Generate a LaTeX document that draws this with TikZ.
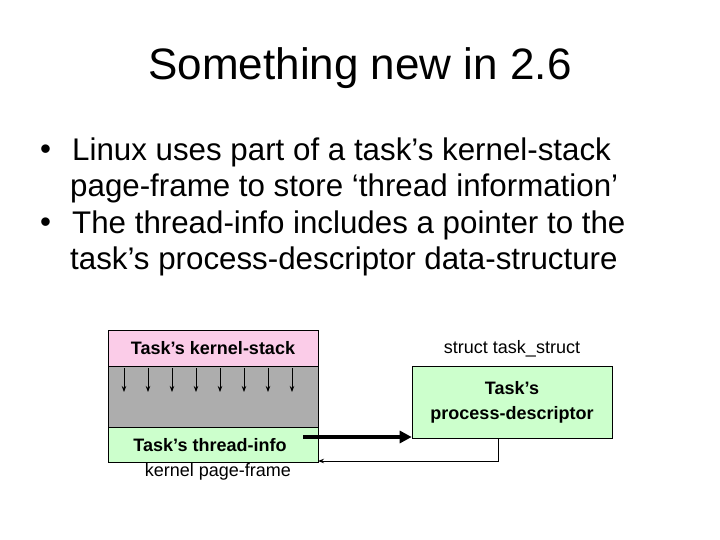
\documentclass[tikz,border=0pt]{standalone}
\usepackage{fontspec}
\setmainfont{Liberation Sans}
\usetikzlibrary{positioning,arrows.meta}
\tikzset{
    x=1pt, y=-1pt,
    line/.style = {anchor=west, inner sep=0pt, font=\fontsize{31.3}{36}\selectfont},
    lbl/.style = {inner sep=0pt, font=\fontsize{18}{21}\selectfont\bfseries},
    band/.style = {draw, line width=0.6pt},
    >={Stealth[length=6pt]},
}
\begin{document}
\begin{tikzpicture}
    \useasboundingbox[fill=white] (0,0) rectangle (720,540);
    \node[inner sep=0pt, font=\fontsize{44}{48}\selectfont] (title) at (360,68) {Something new in 2.6};

    % bullets
    \node[line] (b1) at (72,152) {Linux uses part of a task’s kernel-stack};
    \node[line] (b1b) at (70,188) {page-frame to store ‘thread information’};
    \node[line] (b2) at (72,225) {The thread-info includes a pointer to the};
    \node[line] (b2b) at (70,261) {task’s process-descriptor data-structure};
    \node[line] at (40,152) {•};
    \node[line] at (40,225) {•};

    % kernel page-frame
    \draw[band, fill=magenta!20] (108,330) rectangle (318,366);
    \draw[band, fill=black!32] (108,366) rectangle (318,427);
    \draw[band, fill=green!20] (108,427) rectangle (318,462);
    \node[lbl] (stack) at (213,348) {Task’s kernel-stack};
    \node[lbl] (info) at (210,445) {Task’s thread-info};
    \node[inner sep=0pt, font=\fontsize{18}{21}\selectfont] (frame) at (218,472) {kernel page-frame};
    \foreach \x in {124,148,172,196,220,244,268,292}
        \draw[->, line width=0.8pt] (\x,368) -- (\x,392);

    % process descriptor
    \node[draw, band, fill=green!20, minimum width=200pt, minimum height=72pt,
          align=center, lbl] (desc) at (512,402) {Task’s\\[4pt]process-descriptor};
    \node[inner sep=0pt, font=\fontsize{18}{21}\selectfont, above=8pt of desc] (struct) {struct task\_struct};

    \coordinate (ptr) at (303,437);
    \coordinate (back) at (498,438);
    \draw[-{Triangle[length=12pt,width=12pt]}, line width=3.5pt] (ptr) -- (ptr -| desc.west);
    \draw[->, line width=1pt] (back) |- (318,461);
\end{tikzpicture}
\end{document}
